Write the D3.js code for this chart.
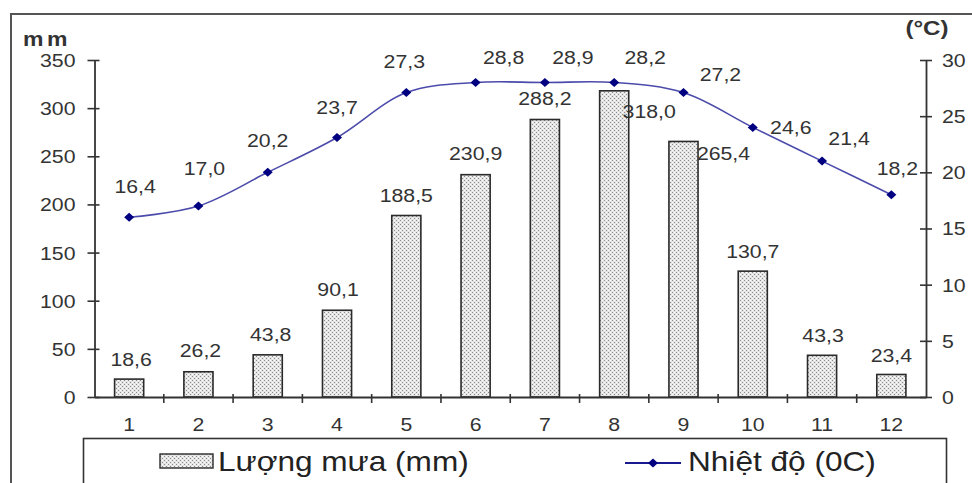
<!DOCTYPE html>
<html><head><meta charset="utf-8">
<script src="https://cdn.jsdelivr.net/npm/d3@7"></script>
<style>
html,body{margin:0;padding:0;background:#fff;}
svg{display:block;font-family:"Liberation Sans",Arial,sans-serif;}
</style></head><body>
<svg id="c" width="972" height="483"></svg>
<script>
// ---- data ----
const months = ["1","2","3","4","5","6","7","8","9","10","11","12"];
const rainfall = [18.6,26.2,43.8,90.1,188.5,230.9,288.2,318.0,265.4,130.7,43.3,23.4];
const rainLabels = ["18,6","26,2","43,8","90,1","188,5","230,9","288,2","318,0","265,4","130,7","43,3","23,4"];
// temperature markers as drawn in the picture, and their printed labels
const temperature = [16.0,17.0,20.0,23.1,27.1,28.0,28.0,28.0,27.1,24.0,21.0,18.0];
const tempLabels = ["16,4","17,0","20,2","23,7","27,3","28,8","28,9","28,2","27,2","24,6","21,4","18,2"];
const rainTicks = [0,50,100,150,200,250,300,350];
const tempTicks = [0,5,10,15,20,25,30];
const seriesNames = ["Lượng mưa (mm)","Nhiệt độ (0C)"];
const leftUnit = "mm", rightUnit = "(°C)";

// ---- label placement (layout only) ----
const rainLabelShift = [[2,-20],[2,-21],[3,-20],[1,-21],[0,-20],[0,-21],[0,-21],[35,21],[40,12],[0,-20],[1,-20],[0,-19]];
const tempLabelShift = [[6,-31],[6,-38],[0,-32],[0,-30],[-2,-31],[28,-25],[28,-25],[31,-25],[37,-18],[38,0],[27,-23],[6,-26]];

const svg = d3.select("#c");
const TXT = "#333";
const SX = 1.15;

function stext(parent, x, y, str, o = {}) {
  const size = o.size || 18.5, sx = o.sx || SX;
  return parent.append("text")
    .attr("transform", `translate(${x},${y}) scale(${sx},1)`)
    .attr("text-anchor", o.anchor || "middle")
    .attr("dy", "0.35em")
    .style("font-size", size + "px")
    .style("font-weight", o.weight || "normal")
    .style("letter-spacing", o.ls || null)
    .attr("fill", o.fill || TXT)
    .text(str);
}

// pattern for bars
const defs = svg.append("defs");
const pat = defs.append("pattern").attr("id","dots").attr("patternUnits","userSpaceOnUse")
  .attr("width",4).attr("height",4);
pat.append("rect").attr("width",4).attr("height",4).attr("fill","#e4e4e4");
pat.append("rect").attr("x",0).attr("y",0).attr("width",1).attr("height",1).attr("fill","#8c8c8c");
pat.append("rect").attr("x",2).attr("y",2).attr("width",1).attr("height",1).attr("fill","#8c8c8c");
pat.append("rect").attr("x",2).attr("y",0).attr("width",1).attr("height",1).attr("fill","#ffffff");
pat.append("rect").attr("x",0).attr("y",2).attr("width",1).attr("height",1).attr("fill","#ffffff");

// outer frame
svg.append("path").attr("d","M11,490 L11,14 L980,14").attr("fill","none")
  .attr("stroke","#555").attr("stroke-width",2);

// scales
const x0 = 94.5, x1 = 926, yBot = 397, yTop = 60;
const x = d3.scaleBand().domain(months).range([x0, x1]).padding(0);
const yL = d3.scaleLinear().domain([0, 350]).range([yBot, yTop]);
const yR = d3.scaleLinear().domain([0, 30]).range([yBot, yTop]);
const bw = x.bandwidth() * 0.42;

// bars
svg.append("g").selectAll("rect").data(rainfall).join("rect")
  .attr("x", (d,i) => x(months[i]) + (x.bandwidth() - bw) / 2)
  .attr("y", d => yL(d))
  .attr("width", bw)
  .attr("height", d => yBot - yL(d))
  .attr("fill", "url(#dots)")
  .attr("stroke", "#2a2a2a").attr("stroke-width", 1.6);

// axes
const axisStyle = g => {
  g.select(".domain").attr("stroke","#333").attr("stroke-width",1.8);
  g.selectAll(".tick line").attr("stroke","#333").attr("stroke-width",1.6);
};
const gL = svg.append("g").attr("transform",`translate(${x0},0)`)
  .call(d3.axisLeft(yL).tickValues(rainTicks).tickSizeOuter(0).tickSize(0).tickFormat(d => d));
gL.selectAll(".tick line").attr("x1",-7).attr("x2",5);
gL.selectAll(".tick text").attr("x",0).attr("dy","0.35em").attr("text-anchor","end")
  .attr("transform",`translate(-19,0) scale(${SX},1)`).style("font-size","18.5px")
  .attr("fill",TXT).style("font-family",null);
gL.attr("font-family",null).attr("font-size",null);
axisStyle(gL);

const gR = svg.append("g").attr("transform",`translate(${x1},0)`)
  .call(d3.axisRight(yR).tickValues(tempTicks).tickSizeOuter(0).tickSize(0).tickFormat(d => d));
gR.selectAll(".tick line").attr("x1",-6).attr("x2",6);
gR.selectAll(".tick text").attr("x",0).attr("dy","0.35em").attr("text-anchor","start")
  .attr("transform",`translate(16,0) scale(${SX},1)`).style("font-size","18.5px").attr("fill",TXT);
gR.attr("font-family",null).attr("font-size",null);
axisStyle(gR);

const gX = svg.append("g").attr("transform",`translate(0,${yBot})`)
  .call(d3.axisBottom(x).tickSizeOuter(0).tickSize(0));
gX.selectAll(".tick text").attr("y",0).attr("dy","0.35em")
  .attr("transform",`translate(0,28) scale(${SX},1)`).style("font-size","18.5px").attr("fill",TXT);
gX.attr("font-family",null).attr("font-size",null);
gX.selectAll(".bnd").data(months.slice(1)).join("line").attr("class","bnd")
  .attr("x1", d => x(d)).attr("x2", d => x(d)).attr("y1",-3).attr("y2",6)
  .attr("stroke","#333").attr("stroke-width",1.6);
axisStyle(gX);

// unit labels
stext(svg, 23, 39, leftUnit, {anchor:"start", size:20, weight:"bold", ls:"3px"});
stext(svg, 927, 28, rightUnit, {size:21, weight:"bold"});

// temperature line
const cx = i => x(months[i]) + x.bandwidth() / 2;
const line = d3.line().x((d,i) => cx(i)).y(d => yR(d)).curve(d3.curveCatmullRom.alpha(0.5));
svg.append("path").datum(temperature).attr("d", line).attr("fill","none")
  .attr("stroke","#4b4bab").attr("stroke-width",1.6);
const diamond = "M0,-4.5 L5,0 L0,4.5 L-5,0 Z";
svg.append("g").selectAll("path").data(temperature).join("path")
  .attr("d", diamond).attr("transform",(d,i) => `translate(${cx(i)},${yR(d)})`)
  .attr("fill","#000080");

// labels
rainfall.forEach((d,i) => {
  stext(svg, cx(i) + rainLabelShift[i][0], yL(d) + rainLabelShift[i][1], rainLabels[i]);
});
temperature.forEach((d,i) => {
  stext(svg, cx(i) + tempLabelShift[i][0], yR(d) + tempLabelShift[i][1], tempLabels[i]);
});

// legend
const lg = svg.append("g");
lg.append("rect").attr("x",83.5).attr("y",438.5).attr("width",863).attr("height",70)
  .attr("fill","#fff").attr("stroke","#333").attr("stroke-width",1.6);
lg.append("rect").attr("x",160).attr("y",454).attr("width",53).attr("height",14)
  .attr("fill","url(#dots)").attr("stroke","#2a2a2a").attr("stroke-width",1.4);
stext(lg, 218, 462, seriesNames[0], {anchor:"start", size:27, sx:1.17, fill:"#222"});
lg.append("line").attr("x1",625).attr("x2",681).attr("y1",463).attr("y2",463)
  .attr("stroke","#1a1a90").attr("stroke-width",1.8);
lg.append("path").attr("d",diamond).attr("transform","translate(653,463)").attr("fill","#000080");
stext(lg, 688, 462, seriesNames[1], {anchor:"start", size:27, sx:1.17, fill:"#222"});
</script>
</body></html>
